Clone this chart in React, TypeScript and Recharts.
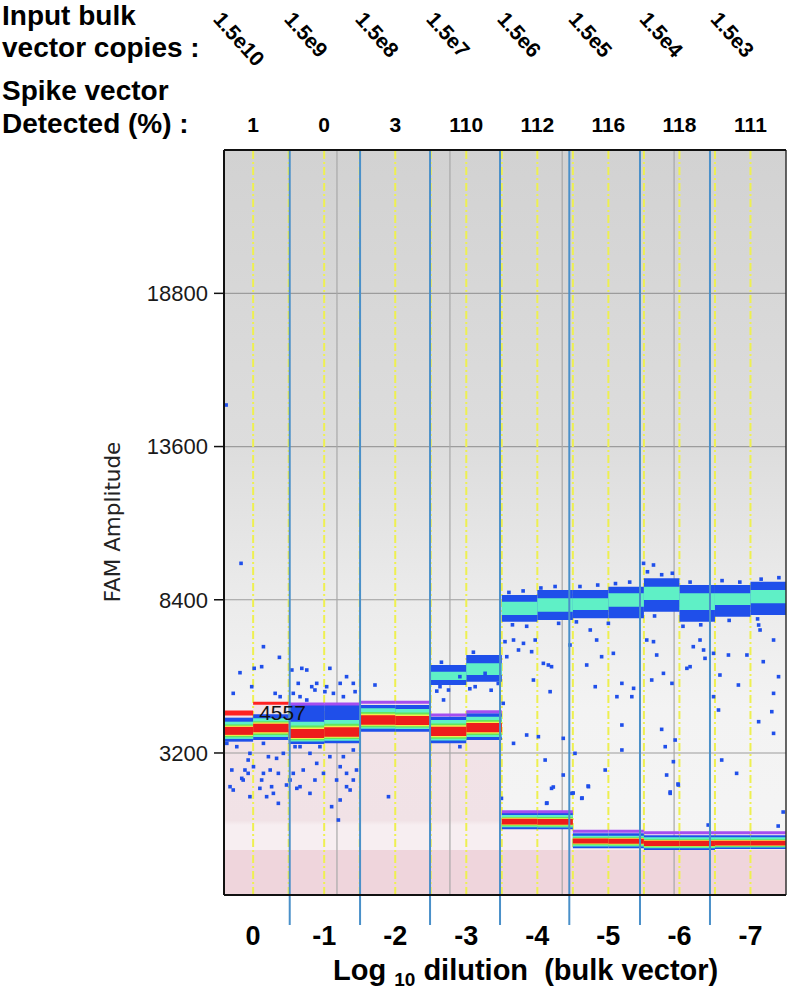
import React from "react";
import {
  ComposedChart,
  XAxis,
  YAxis,
  Scatter,
  ReferenceArea,
  ReferenceLine,
  ReferenceDot,
} from "recharts";

// dilution labels sit on the centre of each pair of wells
const dilutionTicks = [1, 3, 5, 7, 9, 11, 13, 15];
const dilutionLabels = ["0", "-1", "-2", "-3", "-4", "-5", "-6", "-7"];
const bulkCopies = ["1.5e10", "1.5e9", "1.5e8", "1.5e7", "1.5e6", "1.5e5", "1.5e4", "1.5e3"];
const spikeDetected = ["1", "0", "3", "110", "112", "116", "118", "111"];

const amplitudeTicks = [3200, 8400, 13600, 18800];
const eventGridTicks = [3.36, 6.54, 9.7, 12.85];
const wellEdges = [1, 2, 3, 4, 5, 6, 7, 8, 9, 10, 11, 12, 13, 14, 15];
const dilutionDividers = [2.03, 4.01, 5.98, 7.95, 9.9, 11.89, 13.86];

// one entry per well (16 wells, 2 per dilution)
const thresholds = [4557, 4885, 4862, 4862, 4919, 4919, 4489, 4602, 1208, 1208, 540, 540, 490, 490, 490, 490];
const negBlueTop = [4398, 4511, 4828, 4851, 4828, 4828, 4432, 4545, 1174, 1174, 473, 473, 405, 405, 405, 405];
const negTop = [4262, 4376, 4262, 4319, 4715, 4692, 4319, 4432, 1095, 1095, 394, 394, 337, 337, 337, 337];
const negCore = [3957, 4059, 3833, 3889, 4308, 4285, 3923, 4059, 880, 857, 224, 212, 133, 133, 133, 133];
const negBottom = [3584, 3640, 3505, 3527, 3923, 3923, 3527, 3640, 608, 608, -37, -37, -93, -93, -59, -59];

const posTop = [null, null, null, null, null, null, 6186, 6525, 8561, 8731, 8731, 8844, 9127, 8901, 8901, 9014];
const posAquaTop = [null, null, null, null, null, null, 5959, 6242, 8335, 8448, 8448, 8618, 8844, 8618, 8618, 8731];
const posAquaBottom = [null, null, null, null, null, null, 5677, 5846, 7883, 7996, 8052, 8165, 8392, 8052, 8222, 8279];
const posBottom = [null, null, null, null, null, null, 5507, 5620, 7656, 7713, 7770, 7770, 7996, 7656, 7826, 7883];

// scattered droplets (rain), [well position, amplitude]
const rainDil0 = [
  [0.24, 15010], [0.66, 9636], [1.29, 6808], [1.74, 6446], [0.44, 5224], [0.63, 5925], [1.03, 6073],
  [1.24, 6129], [0.96, 5450], [1.76, 5111], [1.62, 5224], [0.91, 3188], [0.86, 2961], [0.77, 2622],
  [0.68, 2339], [0.4, 2622], [0.35, 2056], [0.44, 1943], [0.72, 2282], [0.91, 1717], [0.86, 2509],
  [1.24, 2282], [1.29, 2509], [1.48, 2622], [1.66, 3018], [1.57, 1830], [1.71, 1491], [1.19, 2000],
  [1.38, 1717], [1.52, 2056], [1.01, 2735], [1.85, 3188], [1.71, 2509], [1.94, 2113], [0.26, 3527],
  [0.54, 3414], [1.29, 3527], [1.43, 3075],
];
const rainDil1 = [
  [2.09, 6016], [2.37, 6073], [2.51, 6016], [2.27, 5563], [2.65, 5450], [2.79, 5563], [3.07, 5450],
  [3.16, 6073], [3.45, 5563], [3.63, 5790], [3.82, 5563], [3.87, 5281], [3.54, 5111], [3.26, 5224],
  [2.32, 5111], [2.13, 5224], [2.51, 4998], [2.74, 5337], [3.02, 5281], [2.32, 3414], [2.6, 3188],
  [2.13, 2509], [2.41, 2622], [2.79, 2848], [2.98, 2509], [2.32, 2056], [2.6, 1830], [2.74, 2282],
  [2.04, 2282], [2.23, 2000], [3.16, 3075], [3.45, 2735], [3.63, 2509], [3.35, 2282], [3.82, 2282],
  [3.73, 1943], [3.45, 1604], [3.4, 925], [3.21, 1378], [3.54, 3075], [3.82, 3301], [2.18, 3414],
  [2.88, 3414], [3.91, 2622], [3.63, 2056],
];
const rainDil2to3 = [
  [4.43, 5507], [4.81, 1717], [6.26, 5450], [6.5, 5337], [6.82, 5790], [7.25, 5450], [7.53, 5903],
  [7.39, 6355], [6.82, 3414], [6.17, 5300], [6.36, 5000], [7.1, 5380], [7.7, 5330], [7.9, 5560],
];
const rainDil4 = [
  [8.09, 6978], [8.33, 7034], [8.47, 6695], [8.14, 6468], [8.84, 6638], [8.94, 7034], [9.17, 6242],
  [9.31, 6186], [9.4, 6129], [9.36, 5281], [8.04, 4885], [8.7, 3810], [8.33, 3527], [9.03, 3753],
  [9.73, 3697], [9.22, 2961], [9.4, 1999], [9.73, 2452], [9.26, 1491], [8.61, 6921], [8.89, 5676],
  [7.99, 1660], [9.45, 2045], [9.27, 1503],
];
const rainDil5 = [
  [9.92, 6864], [10.49, 7374], [10.67, 7034], [10.39, 6186], [10.81, 6468], [10.63, 5450],
  [11.24, 5111], [11.38, 5563], [11.66, 5111], [11.71, 5394], [11.38, 4149], [11.38, 3301],
  [9.97, 1830], [10.25, 1660], [10.44, 2056], [10.91, 2622], [10.06, 3188], [11.14, 6582],
  [10.43, 2079], [10.26, 1672], [10.01, 1842],
];
const rainDil6 = [
  [11.99, 9636], [12.27, 9580], [12.27, 6978], [12.36, 6525], [12.08, 7034], [12.55, 5903],
  [12.22, 5676], [12.79, 5563], [12.6, 3414], [12.64, 2452], [12.74, 1830], [12.83, 2905],
  [12.88, 3640], [13.21, 6073], [13.3, 6129], [13.39, 6808], [13.58, 7034], [13.68, 6695],
  [13.72, 6412], [12.97, 2113], [12.5, 4002], [12.96, 2147], [12.74, 1876], [13.81, 755],
];
const rainDil7 = [
  [13.96, 6582], [14.14, 5846], [14.1, 4658], [13.96, 5111], [14.38, 6525], [14.66, 5507],
  [14.9, 6525], [15.23, 4262], [15.36, 6299], [15.6, 4602], [15.65, 3866], [15.65, 5224],
  [15.79, 5790], [15.65, 7034], [15.27, 7374], [14.19, 2961], [14.61, 2509], [15.23, 7543],
  [15.92, 1197], [15.78, 721],
];
const clusterEdges = [
  [8.2, 8650], [8.6, 8700], [9.1, 8800], [9.5, 8850], [10.2, 8850], [10.7, 8900], [11.2, 8950],
  [11.6, 9000], [12.1, 9350], [12.5, 9250], [12.8, 9300], [13.3, 9000], [14.2, 9050], [14.7, 9000],
  [15.3, 9100], [15.8, 9150], [8.3, 7550], [8.7, 7500], [9.6, 7600], [10.1, 7650], [11.0, 7600],
  [12.3, 7850], [13.1, 7500], [13.6, 7550], [14.4, 7700], [15.2, 7750], [6.3, 6280], [7.2, 6620],
];

const X_MIN = 0.18;
const X_MAX = 16;
const Y_MIN = -1620;
const Y_MAX = 23665;
const DEEP_PINK_TOP = -94;
const DIVIDER_BOTTOM = -2640;

const FONT = "'Liberation Sans', Arial, Helvetica, sans-serif";
const BLUE = "#1f4fea";
const AQUA = "#5ff0c6";
const GREEN = "#62e65a";
const YELLOW = "#eef04c";
const RED = "#ee1c1c";
const PURPLE = "#a44ef0";

const lerp = (a: number, b: number, t: number) => a + (b - a) * t;

const droplets = [
  ...rainDil0, ...rainDil1, ...rainDil2to3, ...rainDil4, ...rainDil5, ...rainDil6, ...rainDil7, ...clusterEdges,
].map(([x, y]) => ({ x, y }));

function DropletShape(props: any) {
  const { cx, cy } = props;
  if (cx == null || cy == null) return null;
  return <rect x={cx - 1.8} y={cy - 1.8} width={3.6} height={3.6} fill={BLUE} />;
}

function TopTick({ x, payload }: any) {
  const i = dilutionTicks.indexOf(payload.value);
  const sx = x - 41;
  const sy = 20;
  return (
    <g fontFamily={FONT} fontWeight="bold" fill="#000">
      <text x={sx} y={sy} fontSize={21} transform={`rotate(48 ${sx} ${sy})`}>
        {bulkCopies[i]}
      </text>
      <text x={x} y={132} fontSize={21} textAnchor="middle">
        {spikeDetected[i]}
      </text>
    </g>
  );
}

function BottomTick({ x, payload }: any) {
  const i = dilutionTicks.indexOf(payload.value);
  return (
    <text x={x} y={945} textAnchor="middle" fontFamily={FONT} fontWeight="bold" fontSize={27} fill="#000">
      {dilutionLabels[i]}
    </text>
  );
}

export default function App() {
  const wells = thresholds.map((_, i) => i);

  return (
    <div style={{ position: "absolute", left: 0, top: 0, width: 792, height: 992, background: "#fff" }}>
      <ComposedChart width={792} height={992} margin={{ top: 0, right: 6, bottom: 0, left: 0 }}>
        <defs>
          <linearGradient id="plotBg" gradientUnits="userSpaceOnUse" x1="0" y1="150" x2="0" y2="895">
            <stop offset="0" stopColor="#d2d2d2" />
            <stop offset="0.4" stopColor="#dddddd" />
            <stop offset="0.6" stopColor="#ebebeb" />
            <stop offset="0.75" stopColor="#f3f3f3" />
            <stop offset="1" stopColor="#f5f5f5" />
          </linearGradient>
          <linearGradient id="negBg" gradientUnits="userSpaceOnUse" x1="0" y1="150" x2="0" y2="895">
            <stop offset="0.7" stopColor="#f2e4e8" />
            <stop offset="0.9" stopColor="#f1e2e6" />
            <stop offset="0.906" stopColor="#f7eef1" />
            <stop offset="1" stopColor="#f7eef1" />
          </linearGradient>
        </defs>

        <XAxis
          xAxisId="top"
          orientation="top"
          type="number"
          dataKey="x"
          domain={[X_MIN, X_MAX]}
          allowDataOverflow
          ticks={dilutionTicks}
          interval={0}
          height={150}
          tickLine={false}
          axisLine={{ stroke: "#111", strokeWidth: 2 }}
          tick={<TopTick />}
        />
        <XAxis
          type="number"
          dataKey="x"
          domain={[X_MIN, X_MAX]}
          allowDataOverflow
          ticks={dilutionTicks}
          interval={0}
          height={97}
          tickLine={false}
          axisLine={{ stroke: "#111", strokeWidth: 2 }}
          tick={<BottomTick />}
        />
        <YAxis
          type="number"
          dataKey="y"
          domain={[Y_MIN, Y_MAX]}
          allowDataOverflow
          ticks={amplitudeTicks}
          interval={0}
          width={224}
          tickSize={10}
          tickMargin={6}
          tickLine={{ stroke: "#111", strokeWidth: 1.5 }}
          axisLine={{ stroke: "#111", strokeWidth: 2 }}
          tick={{ fontSize: 22, fill: "#1a1a1a", fontFamily: FONT }}
        />

        {/* backgrounds */}
        <ReferenceArea x1={X_MIN} x2={X_MAX} y1={Y_MIN} y2={Y_MAX} fill="url(#plotBg)" fillOpacity={1} stroke="none" zIndex={1} />
        {wells.map((i) => (
          <ReferenceArea
            key={`neg-bg-${i}`}
            x1={Math.max(i, X_MIN)}
            x2={i + 1}
            y1={Y_MIN}
            y2={thresholds[i]}
            fill="url(#negBg)"
            fillOpacity={1}
            stroke="none"
            zIndex={2}
          />
        ))}
        <ReferenceArea x1={X_MIN} x2={X_MAX} y1={Y_MIN} y2={DEEP_PINK_TOP} fill="#efd5dc" fillOpacity={1} stroke="none" zIndex={3} />

        {/* grid */}
        {amplitudeTicks.map((v) => (
          <ReferenceLine key={`hg-${v}`} y={v} stroke="#9c9c9c" strokeWidth={1.2} zIndex={4} />
        ))}
        {eventGridTicks.map((v) => (
          <ReferenceLine key={`vg-${v}`} x={v} stroke="#a8a8a8" strokeWidth={1.2} zIndex={4} />
        ))}
        {wellEdges.map((v) => (
          <ReferenceLine key={`well-${v}`} x={v} stroke="#eef050" strokeWidth={2} strokeDasharray="8 3 2 3" zIndex={5} />
        ))}

        {/* negative droplet bands */}
        {wells.map((i) => {
          const x1 = Math.max(i, X_MIN);
          const x2 = i + 1;
          const B = negBottom[i];
          const C = negCore[i];
          const T = negTop[i];
          return (
            <React.Fragment key={`neg-${i}`}>
              <ReferenceArea x1={x1} x2={x2} y1={B} y2={negBlueTop[i]} fill={BLUE} fillOpacity={1} stroke="none" zIndex={10} />
              <ReferenceArea x1={x1} x2={x2} y1={lerp(B, C, 0.25)} y2={T} fill={AQUA} fillOpacity={1} stroke="none" zIndex={11} />
              <ReferenceArea x1={x1} x2={x2} y1={lerp(B, C, 0.4)} y2={lerp(T, C, 0.3)} fill={GREEN} fillOpacity={1} stroke="none" zIndex={12} />
              <ReferenceArea x1={x1} x2={x2} y1={lerp(B, C, 0.52)} y2={lerp(T, C, 0.45)} fill={YELLOW} fillOpacity={1} stroke="none" zIndex={13} />
              <ReferenceArea x1={x1} x2={x2} y1={lerp(B, C, 0.62)} y2={lerp(T, C, 0.58)} fill={RED} fillOpacity={1} stroke="none" zIndex={14} />
            </React.Fragment>
          );
        })}

        {/* positive droplet clusters */}
        {wells
          .filter((i) => posTop[i] != null)
          .map((i) => (
            <React.Fragment key={`pos-${i}`}>
              <ReferenceArea x1={i} x2={i + 1} y1={posBottom[i] as number} y2={posTop[i] as number} fill={BLUE} fillOpacity={1} stroke="none" zIndex={10} />
              <ReferenceArea x1={i} x2={i + 1} y1={posAquaBottom[i] as number} y2={posAquaTop[i] as number} fill={AQUA} fillOpacity={1} stroke="none" zIndex={11} />
            </React.Fragment>
          ))}

        <Scatter data={droplets} shape={<DropletShape />} isAnimationActive={false} zIndex={20} />

        {/* thresholds */}
        {wells.map((i) => (
          <ReferenceLine
            key={`thr-${i}`}
            segment={[
              { x: Math.max(i, X_MIN), y: thresholds[i] },
              { x: i + 1, y: thresholds[i] },
            ]}
            stroke={i < 2 ? "#ff2222" : PURPLE}
            strokeWidth={i === 0 ? 5 : 3}
            zIndex={30}
          />
        ))}
        <ReferenceDot
          x={1}
          y={thresholds[0]}
          r={1}
          fill="none"
          stroke="none"
          zIndex={31}
          label={{ value: String(thresholds[0]), position: "right", offset: 5, fill: "#111", fontSize: 21, fontFamily: FONT }}
        />

        {/* dilution dividers drawn over the plot */}
        {dilutionDividers.map((d) => (
          <ReferenceLine
            key={`div-${d}`}
            segment={[
              { x: d, y: Y_MAX },
              { x: d, y: DIVIDER_BOTTOM },
            ]}
            ifOverflow="visible"
            stroke="#4a90c9"
            strokeWidth={2}
            zIndex={40}
          />
        ))}
        <ReferenceLine x={X_MAX} stroke="#333" strokeWidth={1.5} zIndex={41} />
      </ComposedChart>

      <svg
        width={792}
        height={992}
        style={{ position: "absolute", left: 0, top: 0, pointerEvents: "none" }}
        fontFamily={FONT}
      >
        <g fontSize={28} fontWeight="bold" fill="#000">
          <text x={2} y={25}>Input bulk</text>
          <text x={2} y={57}>vector copies :</text>
          <text x={2} y={100}>Spike vector</text>
          <text x={2} y={133}>Detected (%) :</text>
        </g>
        <text
          transform="translate(120,522) rotate(-90)"
          textAnchor="middle"
          fontSize={21.5}
          fontFamily="'DejaVu Sans', sans-serif"
          fill="#222"
        >
          FAM Amplitude
        </text>
        <text x={333} y={980} fontSize={29} fontWeight="bold" fill="#000" xmlSpace="preserve">
          Log <tspan fontSize={19} dy={6}>10</tspan>
          <tspan dy={-6}> dilution  (bulk vector)</tspan>
        </text>
      </svg>
    </div>
  );
}
